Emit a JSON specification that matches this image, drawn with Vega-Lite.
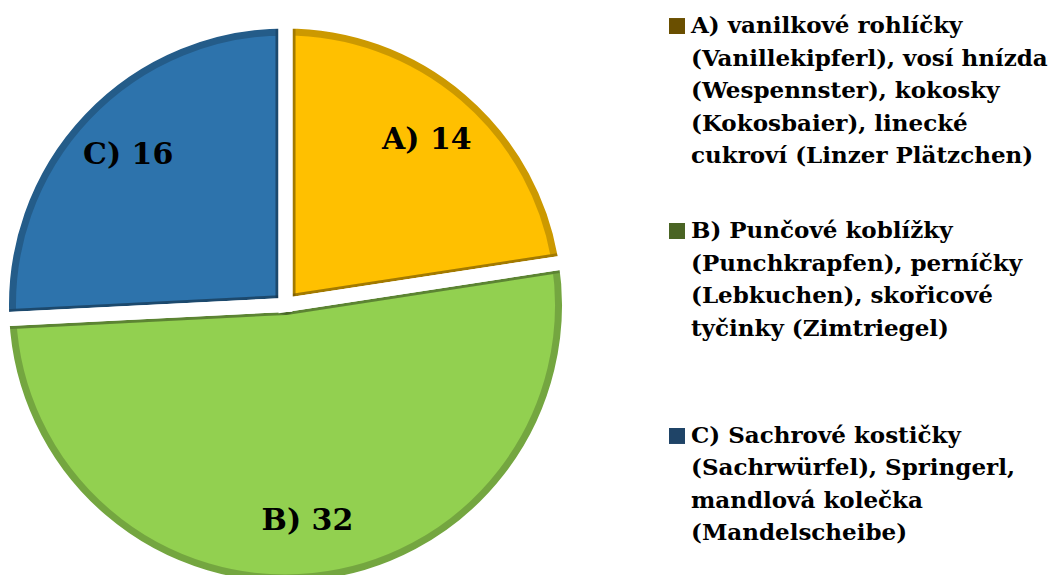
{
  "$schema": "https://vega.github.io/schema/vega-lite/v6.json",
  "padding": 0,
  "background": "white",
  "spacing": 98,
  "config": {"view": {"stroke": null}},
  "data": {
    "values": [
      {"cat": "A", "value": 14, "label": "A) 14", "lines": ["A) vanilkové rohlíčky", "(Vanillekipferl), vosí hnízda", "(Wespennster), kokosky", "(Kokosbaier), linecké", "cukroví (Linzer Plätzchen)"]},
      {"cat": "B", "value": 32, "label": "B) 32", "lines": ["B) Punčové koblížky", "(Punchkrapfen), perníčky", "(Lebkuchen), skořicové", "tyčinky (Zimtriegel)"]},
      {"cat": "C", "value": 16, "label": "C) 16", "lines": ["C) Sachrové kostičky", "(Sachrwürfel), Springerl,", "mandlová kolečka", "(Mandelscheibe)"]}
    ]
  },
  "resolve": {"scale": {"color": "independent", "y": "independent"}},
  "hconcat": [
    {
      "width": 571,
      "height": 610,
      "encoding": {
        "theta": {"field": "value", "type": "quantitative", "stack": true},
        "order": {"field": "cat", "type": "nominal"}
      },
      "layer": [
        {
          "mark": {"type": "arc", "outerRadius": 279.5, "clip": true},
          "encoding": {
            "color": {"field": "cat", "type": "nominal", "scale": {"domain": ["A", "B", "C"], "range": ["#FFC000", "#92D050", "#2D73AC"]}, "legend": null}
          }
        },
        {
          "mark": {"type": "arc", "outerRadius": 279.5, "fillOpacity": 0, "stroke": "black", "strokeOpacity": 0.2, "strokeWidth": 20, "strokeJoin": "round", "clip": true},
          "encoding": {"detail": {"field": "cat", "type": "nominal"}}
        },
        {
          "mark": {"type": "arc", "outerRadius": 283.5, "fillOpacity": 0, "stroke": "white", "strokeWidth": 14, "clip": true},
          "encoding": {"detail": {"field": "cat", "type": "nominal"}}
        },
        {
          "mark": {"type": "text", "radius": 217, "font": "DejaVu Serif", "fontWeight": "bold", "fontSize": 30, "color": "black"},
          "encoding": {
            "detail": {"field": "cat", "type": "nominal"},
            "text": {"field": "label", "type": "nominal"}
          }
        }
      ]
    },
    {
      "width": 16,
      "height": 462,
      "encoding": {
        "y": {"field": "cat", "type": "nominal", "scale": {"type": "point", "padding": 0.127}, "axis": null}
      },
      "layer": [
        {
          "mark": {"type": "square", "size": 256, "filled": true, "opacity": 1},
          "encoding": {
            "color": {"field": "cat", "type": "nominal", "scale": {"domain": ["A", "B", "C"], "range": ["#6A4F00", "#4A6424", "#1F4467"]}, "legend": null}
          }
        },
        {
          "mark": {"type": "text", "align": "left", "baseline": "middle", "dx": 14, "font": "DejaVu Serif", "fontWeight": "bold", "fontSize": 23, "lineHeight": 32.5, "color": "black"},
          "encoding": {"text": {"field": "lines", "type": "nominal"}}
        }
      ]
    }
  ]
}
